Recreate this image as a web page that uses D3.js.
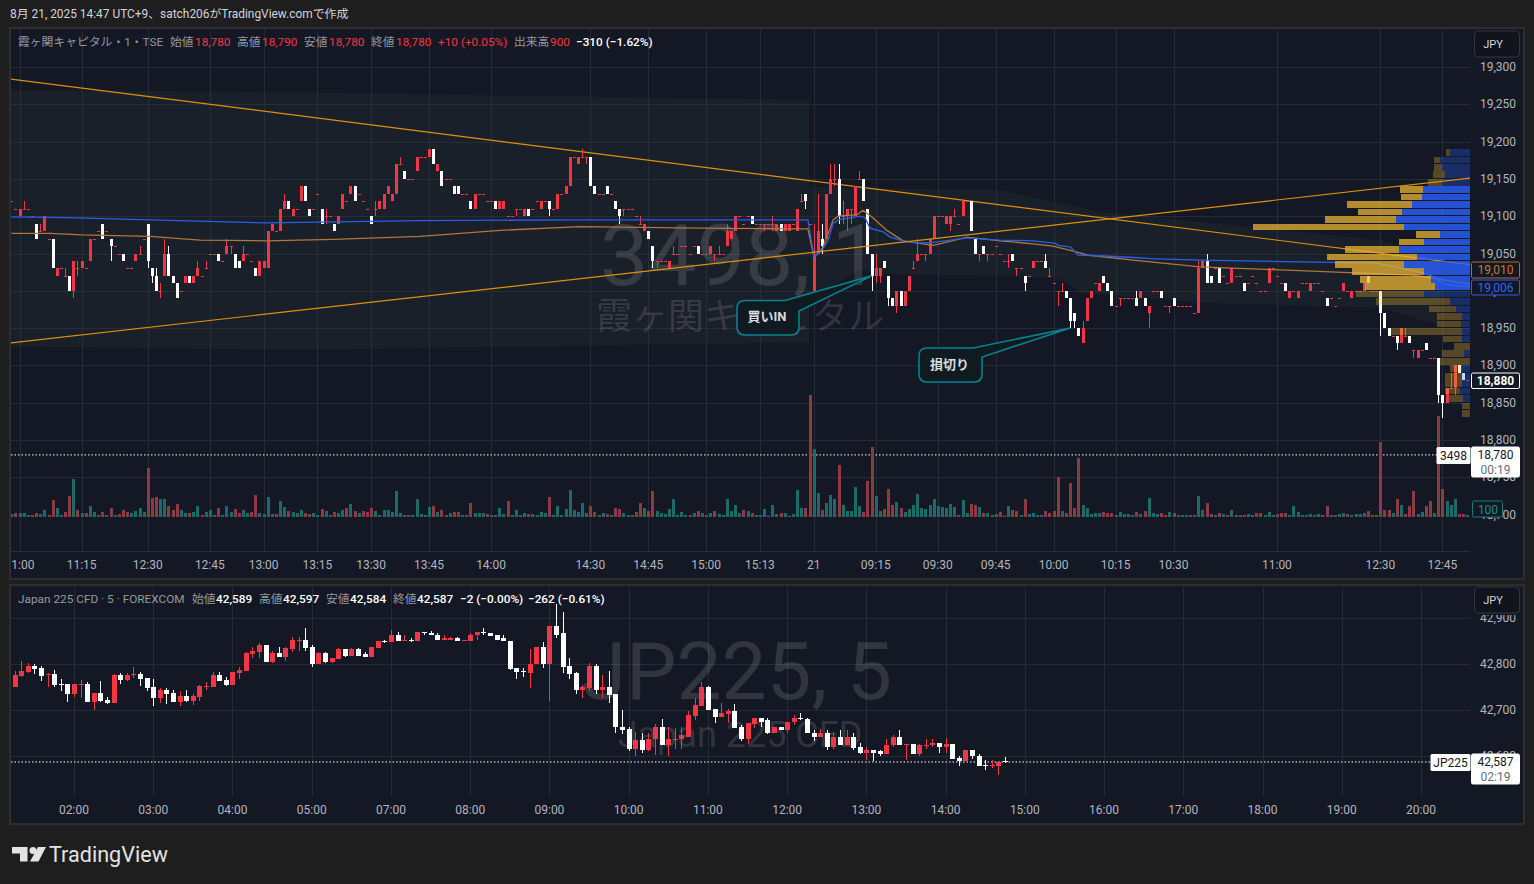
<!DOCTYPE html>
<html lang="ja">
<head>
<meta charset="utf-8">
<title>3498 / JP225</title>
<script src="https://cdn.jsdelivr.net/npm/d3@7"></script>
<style>
  html, body { margin: 0; padding: 0; background: #1e1e1e; overflow: hidden; }
  text { font-family: Roboto, "Noto Sans CJK JP", sans-serif; }
</style>
</head>
<body>
<svg id="chart" width="1534" height="884"></svg>
<script>
// top pane candles, one row per 1 min bar: [open, close, high, low], high/low only when there is a wick
const barsPartA = [
  [19120,19120],[19110,19110],[19100,19110],[19110,19110,19120],[19110,19110],[19100,19100],[19090,19070],[19080,19080,19090],[19080,19100],[19070,19070],
  [19070,19030],[19020,19030],[19030,19030],[19020,19020,19030],[19020,19000],[19000,19040,null,18990],[19030,19030,19040,19020],[19030,19040],[19030,19030],[19040,19070],
  [19070,19070],[19080,19080],[19090,19070],[19080,19080],[19070,19060,null,19040],[19060,19060],[19050,19050],[19050,19040],[19030,19030],[19030,19030],
  [19040,19050],[19050,19050,19060],[19070,19070],[19090,19040,null,19030],[19030,19020,null,19010],[19020,19000,19030],[19000,19000,19010,18990],[19020,19050,19070],[19050,19020,19060],[19020,19010],
  [19010,18990],[19000,19000],[19010,19020],[19020,19010],[19010,19020],[19020,19030,19040],[19020,19020],[19030,19030,19040],[19050,19050],[19050,19050],
  [19050,19040],[19040,19040],[19050,19060,19070],[19060,19060,null,19050],[19050,19030],[19040,19030],[19040,19050,19060],[19050,19050],[19040,19040],[19030,19020],
  [19020,19040],[19030,19040],[19030,19080],[19080,19090],[19080,19080],[19080,19110],[19110,19120,19130],[19120,19110],[19100,19110],[19110,19110],
  [19120,19140],[19140,19120],[19110,19100],[19110,19110],[19130,19130],[19110,19090],[19100,19100,19110,19090],[19100,19100],[19090,19080],[19090,19100],
  [19110,19130],[19120,19120],[19130,19140],[19140,19120],[19130,19130],[19120,19120],[19110,19110],[19100,19090],[19110,19110,19120,19100],[19110,19120],
  [19110,19130],[19130,19140],[19120,19130],[19130,19170],[19170,19170,19180],[19160,19150],[19150,19150],[19150,19150],[19160,19180],
]
const barsPartB = [
  [19180,19180],[19180,19180],[19180,19190],[19190,19170],[19160,19170],[19160,19140],[19150,19150],[19150,19150],[19140,19130],[19140,19130],
  [19130,19130],[19130,19130],[19120,19110],[19110,19130],[19130,19130],[19130,19130],[19120,19120],[19120,19120],[19120,19110],[19110,19120],
  [19110,19120],[19100,19100],[19100,19100],[19110,19110,null,19100],[19110,19110],[19100,19110],[19110,19100],[19110,19110],[19120,19120],[19110,19120],
  [19120,19120],[19120,19110,null,19100],[19110,19110],[19110,19130],[19130,19130],[19130,19140],[19140,19180],[19180,19180],[19170,19180],[19180,19180,19190],
  [19180,19180,null,19170],[19180,19140],[19140,19130],[19130,19130],[19130,19130],[19140,19130],[19130,19130],[19120,19110],[19110,19100,null,19090],[19110,19110,null,19100],
  [19110,19110],[19110,19110],[19100,19100],[19090,19090,19100],[19080,19090],[19080,19070],[19060,19040,null,19030],[19040,19040,null,19030],[19040,19040],[19040,19040],
  [19030,19040],[19050,19050,19060],[19050,19050],[19060,19060],[19060,19060],[19050,19050],[19060,19060],[19060,19050],[19050,19050],[19050,19050],
  [19050,19060],[19050,19050,null,19040],[19050,19050,19060],[19050,19050],[19060,19080,19090],[19070,19080],[19080,19100],[19100,19100],[19090,19090],[19100,19100],
  [19100,19090],[19090,19090],[19090,19090],[19090,19090,null,19080],[19090,19090],[19090,19090,19100,19080],[19080,19090],[19090,19080],[19080,19090],[19080,19090],
  [19090,19090],[19080,19110],[19120,19120,19130],[19130,19120,null,19110],[19090,19090],
]
// from the 21st
const barsPartC = [
  [19000,19050,19090],[19050,19080,19130],[19070,19060,19090,19050],[19070,19130],[19130,19150,19170],[19150,19150,19170,19140],[19150,19100,19170,19090],[19100,19100,19120,19090],[19100,19110,null,19080],[19110,19110,null,19090],
  [19100,19140],[19150,19150,19160],[19150,19120],[19110,19050],[19050,19020,null,19000],[19020,19030,19050,19010],[19020,19030,null,19010],[19040,19030],[19020,18990,null,18980],[18990,18980],
  [18980,19000,null,18970],[19000,18980],[18980,19000],[19000,19020],[19030,19030,19040],[19040,19050,19070],[19050,19050],[19050,19050,null,19040],[19050,19070],[19070,19100],
  [19100,19100],[19100,19100],[19090,19100],[19090,19100,null,19080],[19100,19100,19110],[19090,19090],[19100,19120],[19120,19120],[19120,19080],[19070,19050],
  [19050,19050,null,19040],[19060,19050],[19050,19050,null,19040],[19050,19050],[19060,19060],[19050,19050],[19040,19040],[19040,19040,19050,19030],[19050,19040],[19030,19030,null,19020],
  [19030,19030],[19020,19010,null,19000],[19020,19020],[19030,19040],[19040,19040],[19040,19040],[19040,19030,19050],[19020,19020,19030],[19010,19010],[19000,19000,null,18980],
  [19000,19000,19010],[19000,18990],[18990,18960,null,18950],[18970,18960,null,18950],[18950,18940],[18930,18950,18960],[18960,18990],[18990,19000],[19010,19010],[19000,19010],
  [19020,19010],[19010,19000],[19000,18980],[18980,18980],[18990,18990,null,18980],[18990,18990],[18990,18990],[18990,18990],[18990,18980,19000],[18990,19000],
  [18990,18980],[18970,18980,null,18950],[19000,19000],[19000,19000],[19000,18990],[18980,18980],[18980,18980,null,18970],[18990,18980],[18980,18980],[18980,18980],
  [18980,18980],[18980,18980],[18970,18970],[18970,19030,19040],
]
const barsPartD = [
  [19030,19040],[19040,19010,19050],[19020,19010],[19030,19030],[19030,19010],[19020,19020],[19010,19010],[19010,19030],[19020,19020],[19020,19020],
  [19010,19000],[19010,19010],[19020,19020],[19010,19010],[19000,19000],[19000,19000],[19010,19030],[19030,19030],[19020,19020],[19010,19010],
  [19010,19000],[18990,19000],[19000,19000],[18990,19000],[19010,19010],[19010,19010],[19000,19010],[19010,19010],[19010,19010],[19000,19000],
  [18990,18980],[18990,18990],[18980,18980],[18990,18990],[19000,19010],[19000,19000],[18990,19000],[19000,19000],[19000,19000],[19000,19010],
  [19020,19010],[19000,19000],[19000,19000],[19000,18970,null,18940],[18970,18950],[18950,18940],[18940,18940],[18940,18930,null,18920],[18930,18950],[18940,18940,18950],
  [18940,18930],[18920,18920,null,18910],[18910,18920],[18920,18920],[18930,18920],[18910,18910],[18910,18910],[18910,18860,null,18850],[18860,18850,null,18830],[18850,18870],
  [18870,18870,18890],[18870,18900,null,18860],[18900,18890],[18890,18880],[18880,18880],
]
// volume of each top pane bar, in shares
const volumesA = [
  3,4,4,4,2,2,4,3,7,2, 17,9,2,5,21,38,7,4,4,11, 5,2,5,2,9,2,3,7,5,4, 6,9,5,49,19,20,18,18,11,7,
  13,7,4,4,5,11,2,5,7,2, 9,2,11,5,8,4,7,4,5,22, 4,3,20,3,3,16,10,6,5,4, 7,4,3,4,2,8,6,2,5,4,
  7,9,13,6,4,6,5,9,6,2, 7,7,5,26,4,2,2,2,18,3, 2,10,11,5,7,2,4,5,5,2, 2,14,4,4,4,3,2,2,9,3,
  16,2,7,2,4,3,3,2,5,4, 20,2,11,2,8,27,7,5,14,4, 11,5,2,4,3,2,9,8,4,2, 2,5,14,9,6,26,6,4,3,8,
  18,2,5,2,2,4,6,4,2,4, 6,3,2,18,6,12,4,7,6,4,2,
].map((v) => v * 100)
const volumesB = [
  2,8,1,12,3,4,4,1,3,27, 9,9,122,68,24,7,14,22,18,52, 12,6,6,30,11,5,36,70,21,6, 8,28,12,15,9,5,8,12,23,9,
  8,12,18,11,10,9,13,10,2,17, 4,13,12,10,4,4,2,3,5,1, 11,7,6,2,18,3,4,2,2,6, 4,6,40,6,4,34,9,59,12,9,
  3,4,4,5,4,4,2,5,3,3, 2,5,3,6,19,4,3,4,2,5, 4,2,2,2,2,2,21,7,14,3, 2,4,3,2,7,2,2,2,3,2,
  4,4,2,5,2,3,4,4,2,11, 5,2,2,3,2,3,2,11,2,2, 3,4,3,2,3,3,4,6,2,2, 75,7,7,4,18,12,3,11,26,3,
  5,11,16,4,101,28,16,12,18,3, 3,2,
].map((v) => v * 100)

// top pane time axis
const timeLabels = ["11:00","11:15","12:30","12:45","13:00","13:15","13:30","13:45","14:00","14:30","14:45","15:00","15:13","21","09:15","09:30","09:45","10:00","10:15","10:30","11:00","12:30","12:45"]
const timeBars = [2,17,33,48,61,74,87,101,116,140,154,168,181,194,209,224,238,252,267,281,306,331,346]
const priceTicks = [19300,19250,19200,19150,19100,19050,19000,18950,18900,18850,18800,18750,18700]

// drawn lines: [bar, price]
const trendDown = [[-0.3,19284],[352.7,19035]]
const trendUp = [[-0.3,18930],[352.7,19151]]
const blueAvg = [[0,19099],[13.5,19098],[33.5,19095],[61.8,19091],[98.8,19094],[134.4,19095],[192.6,19095],[194.1,19045],[196.3,19057],[197.5,19068],[198.7,19090],[199.9,19095],[205.2,19100],[206.4,19098],[207.6,19084],[210.8,19079],[212.5,19072],[214.9,19068],[219,19064],[222.9,19065],[231.1,19071],[239,19068],[247,19067],[252.3,19064],[253.1,19061],[256,19059],[257.9,19048],[263.2,19047],[273.6,19044],[275.3,19043],[287.4,19041],[330.2,19037],[341.3,19024],[344.2,19018],[346.2,19009],[352.7,19005]]
const orangeAvg = [[0,19077],[9.4,19077],[17.3,19075],[33.5,19073],[45.6,19068],[61.8,19067],[77.8,19069],[98.8,19073],[118.2,19081],[137.5,19086],[166.5,19084],[192.6,19083],[194.1,19044],[196.3,19059],[197.5,19077],[198.7,19095],[199.9,19100],[204.5,19102],[205.9,19108],[208.3,19098],[211.7,19081],[215.6,19067],[222.9,19061],[231.1,19072],[239,19067],[247,19063],[251.9,19060],[257.7,19052],[260.1,19048],[271.2,19041],[287.4,19032],[306.7,19028],[338.9,19021],[352.7,19009]]
// pale green ranges behind the candles
const zoneLeft = [[0,19269],[70,19266],[193,19256],[193,18931],[70,18921],[0,18925]]
const zoneRight = [[193,19139],[239,19135],[263,19106],[282.6,19095],[331,19068],[345.4,19039],[345.4,18954],[331,18977],[287.4,18984],[258.4,18998],[253.5,19017],[239,19020],[214.9,19022],[205,19028],[193,18988]]

// volume profile at the right edge, one row per 10 yen
const vpPrices = d3.range(19190, 18830, -10)
const vpUp = [20,30,28,25,28,47,48,58,68,74,66,30,46,71,53,66,46,39,35,46,20,14,8,9,8,8,0,6,0,8,8,8,10,7,0,0]
const vpDown = [4,6,8,12,14,23,21,65,44,71,151,24,25,54,90,69,72,71,70,68,74,27,25,24,71,19,16,22,30,12,17,17,15,14,8,8]
const vpValueArea = [19140, 19010]

// bottom pane candles, one row per 5 min bar: [open, high, low, close]
const jpBarsA = [
  [42719,42752,42719,42752],[42750,42784,42750,42777],[42774,42807,42772,42785],[42783,42802,42781,42796],[42796,42800,42779,42790],[42792,42796,42763,42774],[42777,42781,42750,42779],[42779,42788,42750,42755],[42757,42768,42741,42755],[42757,42757,42717,42735],
  [42735,42757,42728,42757],[42755,42766,42726,42757],[42757,42761,42717,42717],[42717,42737,42700,42737],[42737,42763,42717,42719],[42722,42728,42713,42715],[42715,42779,42715,42777],[42777,42781,42757,42766],[42766,42781,42763,42777],[42777,42794,42770,42779],
  [42779,42783,42752,42768],[42770,42770,42741,42748],[42750,42768,42708,42726],[42726,42748,42715,42744],[42744,42748,42713,42735],[42737,42744,42717,42717],[42717,42741,42708,42730],[42730,42744,42717,42719],[42719,42735,42711,42730],[42728,42755,42719,42752],
  [42750,42761,42744,42752],[42750,42783,42750,42777],[42777,42783,42763,42763],[42766,42772,42752,42755],[42755,42783,42755,42783],[42781,42794,42768,42788],[42785,42827,42785,42823],[42821,42836,42814,42829],[42827,42845,42814,42842],[42842,42842,42805,42805],
  [42805,42829,42803,42823],[42823,42838,42816,42816],[42816,42838,42807,42834],[42832,42858,42827,42853],[42851,42858,42829,42853],[42853,42878,42829,42834],[42836,42842,42794,42801],[42801,42827,42799,42823],[42823,42827,42803,42805],[42805,42812,42803,42812],
  [42810,42834,42810,42832],[42832,42832,42816,42818],[42818,42834,42818,42832],[42832,42834,42818,42818],[42821,42827,42816,42816],[42816,42838,42816,42836],[42834,42851,42834,42851],[42851,42853,42845,42847],[42847,42873,42847,42862],[42862,42869,42851,42851],
  [42851,42864,42851,42853],[42853,42856,42847,42851],[42849,42869,42849,42869],[42869,42869,42862,42867],[42867,42871,42862,42864],[42864,42867,42853,42853],[42853,42862,42853,42856],[42853,42858,42853,42856],[42856,42858,42849,42849],[42851,42853,42851,42853],
  [42851,42867,42851,42864],[42862,42869,42853,42869],[42869,42878,42864,42867],[42867,42867,42860,42860],[42862,42862,42853,42853],[42856,42864,42849,42849],[42851,42851,42788,42790],[42792,42792,42768,42783],
]
const jpBarsB = [
  [42785,42792,42772,42783],[42781,42832,42748,42801],[42799,42836,42799,42836],[42836,42847,42792,42799],[42799,42882,42719,42882],[42882,42930,42856,42864],[42867,42913,42781,42794],[42796,42812,42768,42779],[42781,42783,42735,42744],[42744,42755,42726,42750],
  [42748,42803,42741,42796],[42796,42801,42735,42744],[42744,42777,42726,42750],[42750,42785,42715,42733],[42735,42735,42649,42662],[42664,42700,42647,42656],[42658,42664,42610,42616],[42616,42653,42601,42634],[42634,42649,42607,42612],[42612,42649,42610,42638],
  [42636,42669,42603,42664],[42664,42680,42623,42623],[42623,42664,42601,42638],[42636,42660,42616,42638],[42636,42664,42616,42645],[42642,42697,42642,42689],[42686,42726,42678,42711],[42708,42761,42708,42750],[42750,42752,42700,42700],[42702,42702,42671,42684],
  [42684,42715,42684,42693],[42691,42702,42671,42697],[42697,42713,42660,42660],[42662,42667,42632,42636],[42636,42671,42627,42671],[42669,42682,42660,42682],[42682,42682,42664,42675],[42678,42682,42647,42649],[42649,42664,42649,42662],[42662,42664,42656,42656],
  [42656,42675,42651,42675],[42673,42689,42667,42682],[42682,42693,42678,42680],[42680,42682,42649,42649],[42651,42656,42632,42642],[42642,42658,42642,42651],[42651,42656,42614,42620],[42620,42651,42616,42642],[42642,42656,42625,42625],[42625,42656,42623,42642],
  [42642,42651,42614,42618],[42620,42629,42605,42607],[42607,42620,42592,42614],[42614,42614,42590,42607],[42610,42612,42601,42605],[42605,42638,42605,42625],[42623,42645,42620,42642],[42642,42656,42623,42623],[42625,42627,42592,42627],[42627,42627,42605,42605],
  [42605,42627,42601,42625],[42623,42636,42616,42625],[42623,42636,42620,42629],[42629,42629,42607,42620],[42620,42640,42607,42627],[42627,42627,42594,42594],[42596,42601,42579,42590],[42590,42612,42590,42612],[42612,42612,42594,42599],[42601,42605,42579,42579],
  [42581,42592,42570,42579],[42579,42592,42574,42581],[42579,42588,42559,42588],[42589,42597,42584,42587],
]
const jpTimeLabels = ["02:00","03:00","04:00","05:00","07:00","08:00","09:00","10:00","11:00","12:00","13:00","14:00","15:00","16:00","17:00","18:00","19:00","20:00"]
const jpTimeBars = d3.range(10, 215, 12)
const jpPriceTicks = [42900,42800,42700,42600]

const UP_RED = "#f23645"
const DOWN_WHITE = "#ffffff"
const GRID = "#252a35"
const TEXT = "#b2b5be"
const PANE = "#141824"
const LEFT = 11
const PLOT_RIGHT = 1470
const RIGHT = 1523

const svg = d3.select("#chart")
const defs = svg.append("defs")

const clip = (id, x, y, w, h) =>
  defs.append("clipPath").attr("id", id).append("rect").attr("x", x).attr("y", y).attr("width", w).attr("height", h)

clip("topPlot", LEFT, 28, PLOT_RIGHT - LEFT, 523)
clip("topTime", LEFT, 552, RIGHT - LEFT, 26)
clip("jpPlot", LEFT, 586, PLOT_RIGHT - LEFT, 210)
clip("jpPrice", PLOT_RIGHT, 615, RIGHT - PLOT_RIGHT, 180)

const label = (g, x, y, str, fill, size = 12, anchor = "start", weight = 400) =>
  g.append("text")
    .attr("x", x)
    .attr("y", y)
    .attr("fill", fill)
    .attr("font-size", size)
    .attr("font-weight", weight)
    .attr("text-anchor", anchor)
    .attr("dominant-baseline", "central")
    .text(str)

const priceLabel = (str) => d3.format(",")(str)

// candles: white when falling, red otherwise
const drawCandles = (g, bars, x, y, bodyWidth) => {
  bars.forEach((b, i) => {
    const color = b.o > b.c ? DOWN_WHITE : UP_RED
    const cx = Math.round(x(i))
    g.append("rect")
      .attr("x", cx)
      .attr("y", y(b.h))
      .attr("width", 1)
      .attr("height", Math.max(0, y(b.l) - y(b.h)))
      .attr("fill", color)
    const top = y(Math.max(b.o, b.c))
    const bottom = y(Math.min(b.o, b.c))
    g.append("rect")
      .attr("x", cx - (bodyWidth - 1) / 2)
      .attr("y", top)
      .attr("width", bodyWidth)
      .attr("height", Math.max(1, bottom - top))
      .attr("fill", color)
  })
}

const priceBox = (g, yPos, height, text1, text2, stroke, fill, color) => {
  g.append("rect")
    .attr("x", 1471.5)
    .attr("y", yPos)
    .attr("width", 48)
    .attr("height", height)
    .attr("fill", fill)
    .attr("stroke", stroke)
    .attr("rx", 1.5)
  label(g, 1495.5, yPos + 8, text1, color, 12, "middle", fill === PANE && stroke === "#ffffff" ? 700 : 400)
  if (text2) label(g, 1495.5, yPos + 23, text2, "#6a6d78", 12, "middle")
}

const jpyButton = (g, yPos) => {
  g.append("rect")
    .attr("x", 1474.5)
    .attr("y", yPos)
    .attr("width", 45)
    .attr("height", 26)
    .attr("rx", 4)
    .attr("fill", "#11141c")
    .attr("stroke", "#33363f")
  label(g, 1493, yPos + 13, "JPY", "#d1d4dc", 11, "middle")
}

const header = (g, yPos, items) => {
  items.forEach(([x, str, fill, weight]) => label(g, x, yPos, str, fill, 11.8, "start", weight || 400))
}

const callout = (g, left, top, right, bottom, startX, startY, endX, endY, tipX, tipY, str) => {
  const r = 8
  const path = d3.path()
  path.moveTo(left + r, top)
  path.lineTo(startX, startY)
  path.lineTo(tipX, tipY)
  path.lineTo(endX, endY)
  path.lineTo(right, bottom - r)
  path.quadraticCurveTo(right, bottom, right - r, bottom)
  path.lineTo(left + r, bottom)
  path.quadraticCurveTo(left, bottom, left, bottom - r)
  path.lineTo(left, top + r)
  path.quadraticCurveTo(left, top, left + r, top)
  path.closePath()
  g.append("path")
    .attr("d", path.toString())
    .attr("fill", "#0f1b21")
    .attr("stroke", "#06838f")
    .attr("stroke-width", 1.6)
  label(g, (left + right) / 2 - 1, (top + bottom) / 2 - 1, str, "#d8dade", 13, "middle", 700)
}

// page and panes
label(svg, 10, 14, "8月 21, 2025 14:47 UTC+9、satch206がTradingView.comで作成", "#d1d4dc", 11.9)
svg.append("rect").attr("x", 10).attr("y", 28).attr("width", 1514).attr("height", 551).attr("fill", PANE).attr("stroke", "#2e2e2e").attr("stroke-width", 2)
svg.append("rect").attr("x", 10).attr("y", 585).attr("width", 1514).attr("height", 239).attr("fill", PANE).attr("stroke", "#2e2e2e").attr("stroke-width", 2)
svg.append("line").attr("x1", LEFT).attr("x2", PLOT_RIGHT).attr("y1", 551.5).attr("y2", 551.5).attr("stroke", "#2a2e39")

// ---- top pane ----
const barsTop = [...barsPartA, ...barsPartB, ...barsPartC, ...barsPartD]
  .map(([o, c, h, l]) => ({ o, c, h: h ?? Math.max(o, c), l: l ?? Math.min(o, c) }))
const volumes = [...volumesA, ...volumesB]

const x = d3.scaleLinear().domain([0, 352]).range([11.3, 1467.2])
const y = d3.scaleLinear().domain([19300, 18800]).range([67, 440])
const yVolume = d3.scaleLinear().domain([0, 12200]).range([516.5, 394.5])
const vpWidth = d3.scaleLinear().domain([0, 217]).range([0, 217])
const pointLine = d3.line().x((d) => x(d[0])).y((d) => y(d[1]))

const topPlot = svg.append("g").attr("clip-path", "url(#topPlot)")

// grid
topPlot.selectAll(".hgrid").data(priceTicks).join("line")
  .attr("x1", LEFT).attr("x2", PLOT_RIGHT)
  .attr("y1", (d) => Math.round(y(d)) + 0.5).attr("y2", (d) => Math.round(y(d)) + 0.5)
  .attr("stroke", GRID)
topPlot.selectAll(".vgrid").data(timeBars).join("line")
  .attr("x1", (d) => Math.round(x(d)) + 0.5).attr("x2", (d) => Math.round(x(d)) + 0.5)
  .attr("y1", 28).attr("y2", 551)
  .attr("stroke", GRID)

// ranges and watermark
;[zoneLeft, zoneRight].forEach((zone) => {
  topPlot.append("path")
    .attr("d", d3.line().x((d) => x(d[0])).y((d) => y(d[1])).curve(d3.curveLinearClosed)(zone))
    .attr("fill", "#33423f")
    .attr("fill-opacity", 0.2)
})
label(topPlot, 740, 255, "3498, 1", "#ffffff", 86, "middle").attr("fill-opacity", 0.13).attr("font-family", "Noto Sans")
label(topPlot, 740, 317, "霞ヶ関キャピタル", "#ffffff", 36, "middle").attr("fill-opacity", 0.13)

// current price line
topPlot.append("line")
  .attr("x1", LEFT).attr("x2", PLOT_RIGHT)
  .attr("y1", y(18780)).attr("y2", y(18780))
  .attr("stroke", "#ffffff").attr("stroke-dasharray", "1.5 2")

// volume, coloured by the direction of the bar
const volumeBars = topPlot.append("g").attr("shape-rendering", "crispEdges")
volumes.forEach((v, i) => {
  const b = barsTop[i]
  const prevClose = i > 0 ? barsTop[i - 1].c : b.c
  const falling = b.c < b.o || (b.c === b.o && b.c < prevClose)
  volumeBars.append("rect")
    .attr("x", Math.round(x(i)) - 1)
    .attr("y", yVolume(v))
    .attr("width", 3)
    .attr("height", yVolume(0) - yVolume(v))
    .attr("fill", falling ? "#8d3a40" : "#1c6b68")
})

topPlot.append("path").attr("d", pointLine(trendDown)).attr("fill", "none").attr("stroke", "#e0900c").attr("stroke-width", 1.2)

drawCandles(topPlot.append("g").attr("shape-rendering", "crispEdges"), barsTop, x, y, 3)

topPlot.append("path").attr("d", pointLine(orangeAvg)).attr("fill", "none").attr("stroke", "#b3763c").attr("stroke-width", 1.3)
topPlot.append("path").attr("d", pointLine(blueAvg)).attr("fill", "none").attr("stroke", "#2a5ee8").attr("stroke-width", 1.3)

// volume profile
const profile = topPlot.append("g").attr("shape-rendering", "crispEdges")
vpPrices.forEach((p, i) => {
  const inValue = p <= vpValueArea[0] && p >= vpValueArea[1]
  const up = vpWidth(vpUp[i])
  const down = vpWidth(vpDown[i])
  const h = y(p - 10) - y(p) - 0.8
  profile.append("rect")
    .attr("x", PLOT_RIGHT - up).attr("y", y(p)).attr("width", up).attr("height", h)
    .attr("fill", "#2962ff").attr("fill-opacity", inValue ? 0.8 : 0.3)
  profile.append("rect")
    .attr("x", PLOT_RIGHT - up - down).attr("y", y(p)).attr("width", down).attr("height", h)
    .attr("fill", "#f2b830").attr("fill-opacity", inValue ? 0.72 : 0.3)
})

topPlot.append("path").attr("d", pointLine(trendUp)).attr("fill", "none").attr("stroke", "#e0900c").attr("stroke-width", 1.2)

// the two notes
callout(svg, 737, 300.5, 799, 335, 785, 300.5, 799, 311, x(208), y(19020), "買いIN")
callout(svg, 919, 348, 982, 382, 973, 348, 982, 357, x(256), y(18950), "損切り")

// price axis
priceTicks.forEach((p) => label(svg, 1480, y(p), priceLabel(p), TEXT, 12))
priceBox(svg, 262, 16, "19,010", null, "#b2692a", PANE, "#c77a30")
priceBox(svg, 280, 15, "19,006", null, "#2a5ee8", PANE, "#2a66f0")
priceBox(svg, 373, 15.5, "18,880", null, "#ffffff", PANE, "#ffffff")
priceBox(svg, 447, 30, "18,780", "00:19", "#ffffff", "#ffffff", "#131722")

svg.append("rect").attr("x", 1436.5).attr("y", 447).attr("width", 34).attr("height", 17).attr("fill", "#ffffff").attr("rx", 1.5)
label(svg, 1453.5, 456, "3498", "#131722", 12, "middle")

svg.append("rect").attr("x", 1472.5).attr("y", 501).attr("width", 30).attr("height", 16).attr("fill", PANE).attr("stroke", "#127c78").attr("rx", 1.5)
label(svg, 1488, 509.5, "100", "#15908a", 12, "middle")

// time axis
const topTime = svg.append("g").attr("clip-path", "url(#topTime)")
timeLabels.forEach((t, i) => label(topTime, x(timeBars[i]), 565, t, TEXT, 12, "middle"))

// legend
const RED = "#f23645"
const GREY = "#9598a1"
header(svg, 42, [
  [18, "霞ヶ関キャピタル・1・TSE", GREY],
  [170, "始値", GREY], [195, "18,780", RED],
  [237, "高値", GREY], [262, "18,790", RED],
  [304, "安値", GREY], [329, "18,780", RED],
  [371, "終値", GREY], [396, "18,780", RED],
  [438, "+10 (+0.05%)", RED],
  [514, "出来高", GREY], [550, "900", RED],
  [576, "−310 (−1.62%)", "#ffffff", 500],
])
jpyButton(svg, 31)

// ---- bottom pane ----
const barsJp = [...jpBarsA, ...jpBarsB].map(([o, h, l, c]) => ({ o, h, l, c }))
const xJp = d3.scaleLinear().domain([0, 214]).range([8, 1421])
const yJp = d3.scaleLinear().domain([42800, 42600]).range([664, 756])

const jpPlot = svg.append("g").attr("clip-path", "url(#jpPlot)")
jpPlot.selectAll(".hgrid").data(jpPriceTicks).join("line")
  .attr("x1", LEFT).attr("x2", PLOT_RIGHT)
  .attr("y1", (d) => Math.round(yJp(d)) + 0.5).attr("y2", (d) => Math.round(yJp(d)) + 0.5)
  .attr("stroke", GRID)
jpPlot.selectAll(".vgrid").data(jpTimeBars).join("line")
  .attr("x1", (d) => Math.round(xJp(d)) + 0.5).attr("x2", (d) => Math.round(xJp(d)) + 0.5)
  .attr("y1", 586).attr("y2", 796)
  .attr("stroke", GRID)

label(jpPlot, 737, 672, "JP225, 5", "#ffffff", 80, "middle").attr("fill-opacity", 0.13).attr("font-family", "Noto Sans")
label(jpPlot, 740, 735, "Japan 225 CFD", "#ffffff", 36, "middle").attr("fill-opacity", 0.13).attr("font-family", "Noto Sans")

jpPlot.append("line")
  .attr("x1", LEFT).attr("x2", PLOT_RIGHT)
  .attr("y1", yJp(42587)).attr("y2", yJp(42587))
  .attr("stroke", "#ffffff").attr("stroke-dasharray", "1.5 2")

drawCandles(jpPlot.append("g").attr("shape-rendering", "crispEdges"), barsJp, xJp, yJp, 5)

const jpPrice = svg.append("g").attr("clip-path", "url(#jpPrice)")
jpPriceTicks.forEach((p) => label(jpPrice, 1480, yJp(p), priceLabel(p), TEXT, 12))
priceBox(svg, 754, 30, "42,587", "02:19", "#ffffff", "#ffffff", "#131722")

svg.append("rect").attr("x", 1430.5).attr("y", 754).attr("width", 40).attr("height", 17).attr("fill", "#ffffff").attr("rx", 1.5)
label(svg, 1450.5, 763, "JP225", "#131722", 12, "middle")

jpTimeLabels.forEach((t, i) => label(svg, xJp(jpTimeBars[i]), 810, t, TEXT, 12, "middle"))

header(svg, 599, [
  [18, "Japan 225 CFD · 5 · FOREXCOM", GREY],
  [192, "始値", GREY], [216, "42,589", "#ffffff", 500],
  [259, "高値", GREY], [283, "42,597", "#ffffff", 500],
  [326, "安値", GREY], [350, "42,584", "#ffffff", 500],
  [393, "終値", GREY], [417, "42,587", "#ffffff", 500],
  [460, "−2 (−0.00%)", "#ffffff", 500],
  [528, "−262 (−0.61%)", "#ffffff", 500],
])
jpyButton(svg, 587)

// logo
const logo = svg.append("g").attr("fill", "#e3e3e3")
logo.append("path").attr("d", "M12 847h15.5v14.5h-7.5v-8h-8z")
logo.append("circle").attr("cx", 33).attr("cy", 850.5).attr("r", 3.5)
logo.append("path").attr("d", "M38 847h8l-7.5 14.5h-8.5z")
label(logo, 49, 854.5, "TradingView", "#e3e3e3", 21.6, "start", 400)
</script>
</body>
</html>
